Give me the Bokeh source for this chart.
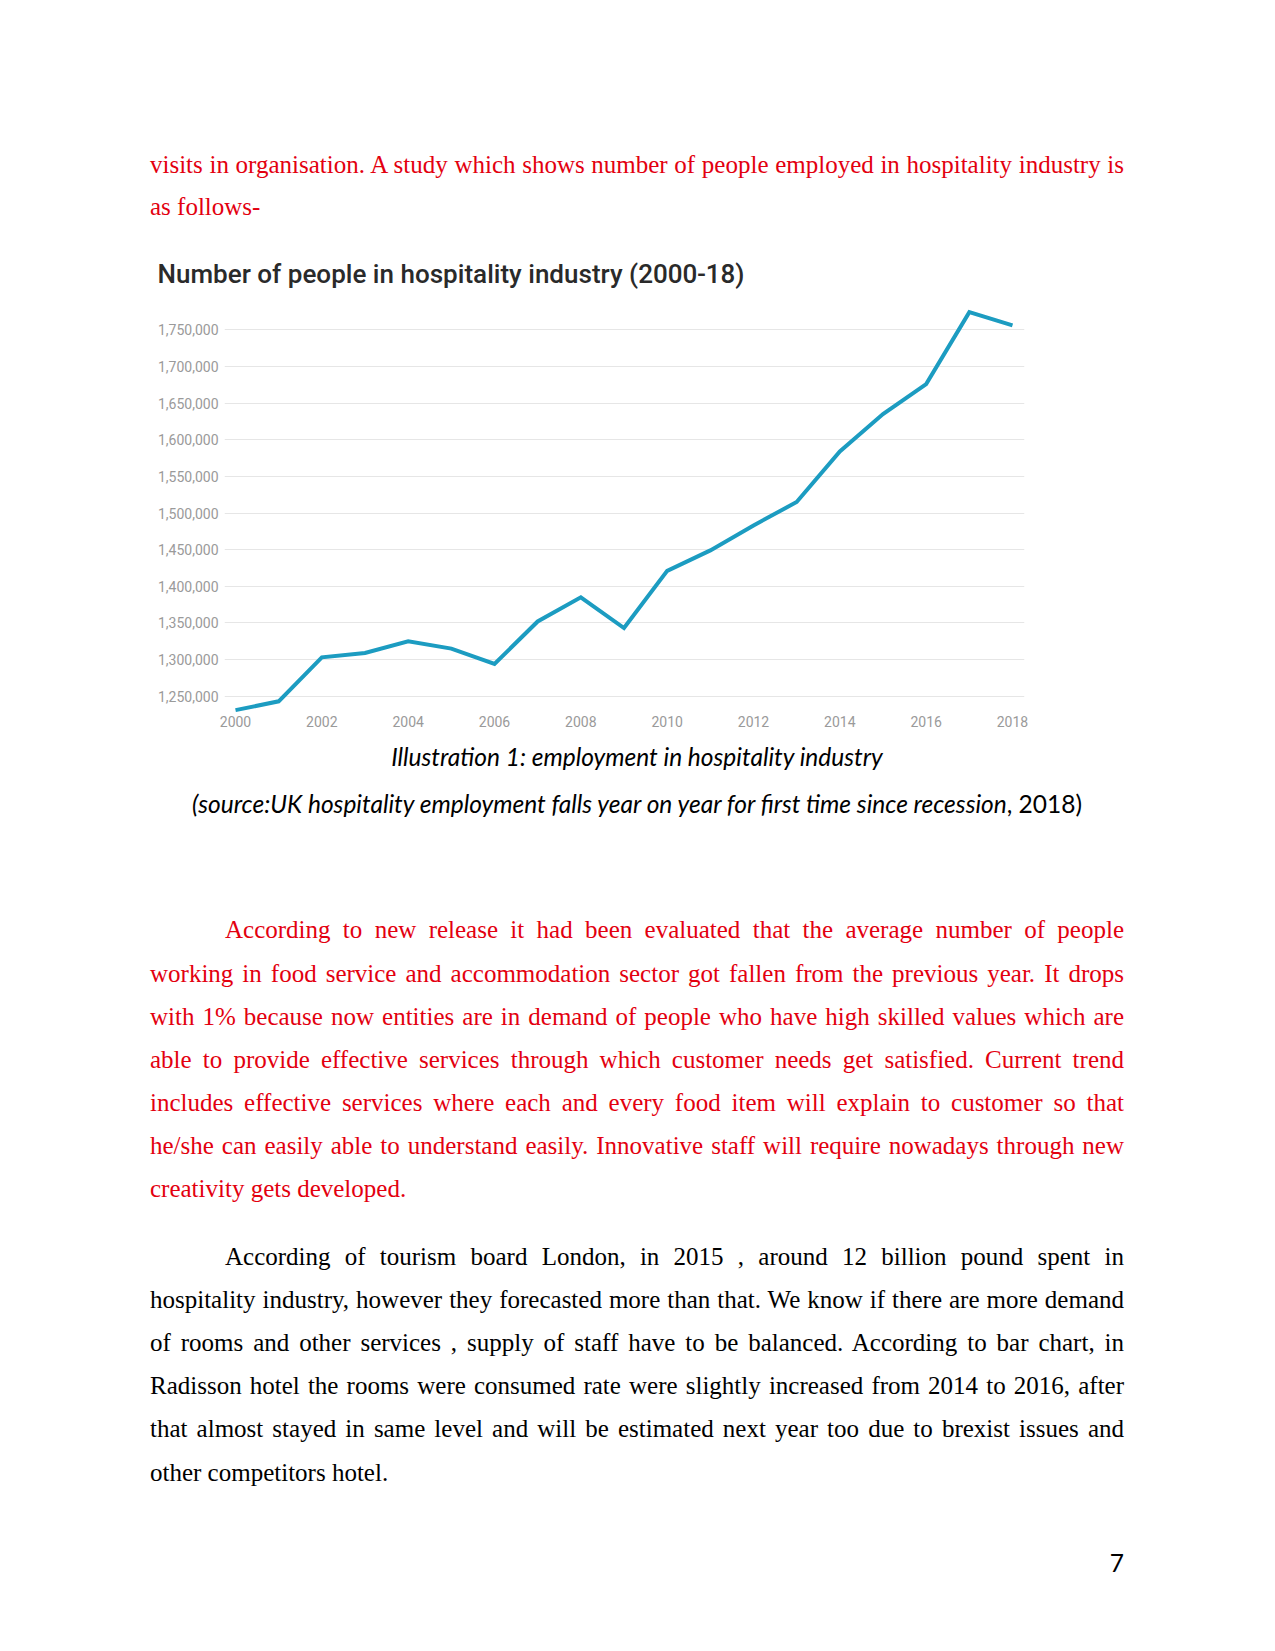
from bokeh.plotting import figure
from bokeh.models import Div, Range1d, FixedTicker, NumeralTickFormatter, ColumnDataSource
from bokeh.layouts import column
from bokeh.embed import file_html
from bokeh.resources import INLINE

# ---------------- data ----------------
years = [2000, 2001, 2002, 2003, 2004, 2005, 2006, 2007, 2008, 2009,
         2010, 2011, 2012, 2013, 2014, 2015, 2016, 2017, 2018]
employed = [1231000, 1243000, 1303000, 1309000, 1325000, 1315000, 1294000,
            1352000, 1385000, 1343000, 1421000, 1449000, 1483000, 1515000,
            1584000, 1635000, 1676000, 1774000, 1756000]
y_ticks = [1250000, 1300000, 1350000, 1400000, 1450000, 1500000,
           1550000, 1600000, 1650000, 1700000, 1750000]
x_ticks = [2000, 2002, 2004, 2006, 2008, 2010, 2012, 2014, 2016, 2018]
chart_title = "Number of people in hospitality industry (2000-18)"

top_lines = [
    "visits in organisation. A study which shows number of people employed in hospitality industry is",
    "as follows-",
]
caption_1 = "Illustration 1: employment in hospitality industry"
caption_2_italic = "(source:UK hospitality employment falls year on year for first time since recession"
caption_2_plain = ", 2018)"
para_1 = [
    "According to new release it had been evaluated that the average number of people",
    "working in food service and accommodation sector got fallen from the previous year. It drops",
    "with 1% because now entities are in demand of people who have high skilled values which are",
    "able to provide effective services through which customer needs get satisfied. Current trend",
    "includes effective services where each and every food item will explain to customer so that",
    "he/she can easily able to understand easily. Innovative staff will require nowadays through new",
    "creativity gets developed.",
]
para_2 = [
    "According of tourism board London, in 2015 , around 12 billion pound spent in",
    "hospitality industry, however they forecasted more than that. We know if there are more demand",
    "of rooms and other services , supply of staff have to be balanced. According to bar chart, in",
    "Radisson hotel the rooms were consumed rate were slightly increased from 2014 to 2016, after",
    "that almost stayed in same level and will be estimated next year too due to brexist issues and",
    "other competitors hotel.",
]
page_number = "7"

# ---------------- page layout helpers ----------------
W = 1259
RED = "#e3000f"
SERIF = "font-family:'Liberation Serif','Times New Roman',serif;font-size:25px;line-height:43px;"
TEXT_LEFT = 150
TEXT_W = 974
INDENT = 75
ASC = 29.94  # baseline offset inside a 43px serif line box


def line_div(text, top, color, last=False, indent=False):
    left = TEXT_LEFT + (INDENT if indent else 0)
    width = TEXT_W - (INDENT if indent else 0)
    align = "text-align:left;" if last else "text-align:justify;text-align-last:justify;"
    return (f'<div style="position:absolute;left:{left}px;top:{top:.1f}px;width:{width}px;'
            f'{SERIF}color:{color};{align}white-space:normal;">{text}</div>')


# top text block (page y 0 .. 240)
TOP_H = 240
top_html = [f'<div style="position:relative;width:{W}px;height:{TOP_H}px;">']
top_baselines = [172.9, 215.0]
for i, (t, b) in enumerate(zip(top_lines, top_baselines)):
    top_html.append(line_div(t, b - ASC, RED, last=(i == len(top_lines) - 1)))
top_html.append('</div>')
top_div = Div(text="".join(top_html), width=W, height=TOP_H, margin=0)

# ---------------- chart ----------------
src = ColumnDataSource(data=dict(year=years, employed=employed))
p = figure(width=W, height=495, output_backend="svg", toolbar_location=None,
           x_range=Range1d(1999.745, 2018.278), y_range=Range1d(1227760, 1789980),
           min_border_left=224, min_border_right=235, min_border_top=60, min_border_bottom=23,
           outline_line_color=None, background_fill_color="white", border_fill_color="white")
p.title.text = chart_title
p.title.text_font = "'Roboto Medium', Roboto"
p.title.text_font_size = "26px"
p.title.text_font_style = "normal"
p.title.text_color = "#2a2a2a"
p.title.align = "left"
p.title.offset = -67
p.title.standoff = 24

p.line(x="year", y="employed", source=src, line_color="#1c9cc1", line_width=4,
       line_join="miter")

p.xaxis.ticker = FixedTicker(ticks=x_ticks)
p.yaxis.ticker = FixedTicker(ticks=y_ticks)
p.yaxis.formatter = NumeralTickFormatter(format="0,0")
for ax in (p.xaxis, p.yaxis):
    ax.axis_line_color = None
    ax.major_tick_line_color = None
    ax.minor_tick_line_color = None
    ax.major_tick_out = 0
    ax.major_tick_in = 0
    ax.major_label_text_font = "Roboto"
    ax.major_label_text_font_size = "14px"
    ax.major_label_text_color = "#9a9a9a"
p.xaxis.major_label_standoff = 3
p.yaxis.major_label_standoff = 6
p.xgrid.visible = False
p.ygrid.ticker = FixedTicker(ticks=y_ticks)
p.ygrid.grid_line_color = "#e6e6e6"
p.ygrid.grid_line_width = 1

# ---------------- bottom text block (page y 735 .. 1643) ----------------
BOT_TOP = 735
BOT_H = 908
CAP_FS = 24.5
CAP = (f"font-family:Lato,Carlito,sans-serif;font-size:{CAP_FS}px;"
       f"line-height:{1.2 * CAP_FS:.1f}px;color:#000;")
CAP_ASC = 0.987 * CAP_FS
bot = [f'<div style="position:relative;width:{W}px;height:{BOT_H}px;">']
bot.append(f'<div style="position:absolute;left:{TEXT_LEFT}px;top:{766 - CAP_ASC - BOT_TOP:.1f}px;'
           f'width:{TEXT_W}px;text-align:center;{CAP}font-style:italic;">{caption_1}</div>')
bot.append(f'<div style="position:absolute;left:{TEXT_LEFT}px;top:{813 - CAP_ASC - BOT_TOP:.1f}px;'
           f'width:{TEXT_W}px;text-align:center;{CAP}"><i>{caption_2_italic}</i>{caption_2_plain}</div>')
for i, t in enumerate(para_1):
    b = 938.3 + 43.16 * i
    bot.append(line_div(t, b - ASC - BOT_TOP, RED, last=(i == len(para_1) - 1), indent=(i == 0)))
for i, t in enumerate(para_2):
    b = 1264.6 + 43.16 * i
    bot.append(line_div(t, b - ASC - BOT_TOP, "#000", last=(i == len(para_2) - 1), indent=(i == 0)))
bot.append(f'<div style="position:absolute;right:{W - 1124}px;top:{1572 - CAP_ASC - BOT_TOP:.1f}px;'
           f'{CAP}text-align:right;">{page_number}</div>')
bot.append('</div>')
bottom_div = Div(text="".join(bot), width=W, height=BOT_H, margin=0)

layout = column(top_div, p, bottom_div, spacing=0)
open("out.html", "w").write(file_html(layout, INLINE))
